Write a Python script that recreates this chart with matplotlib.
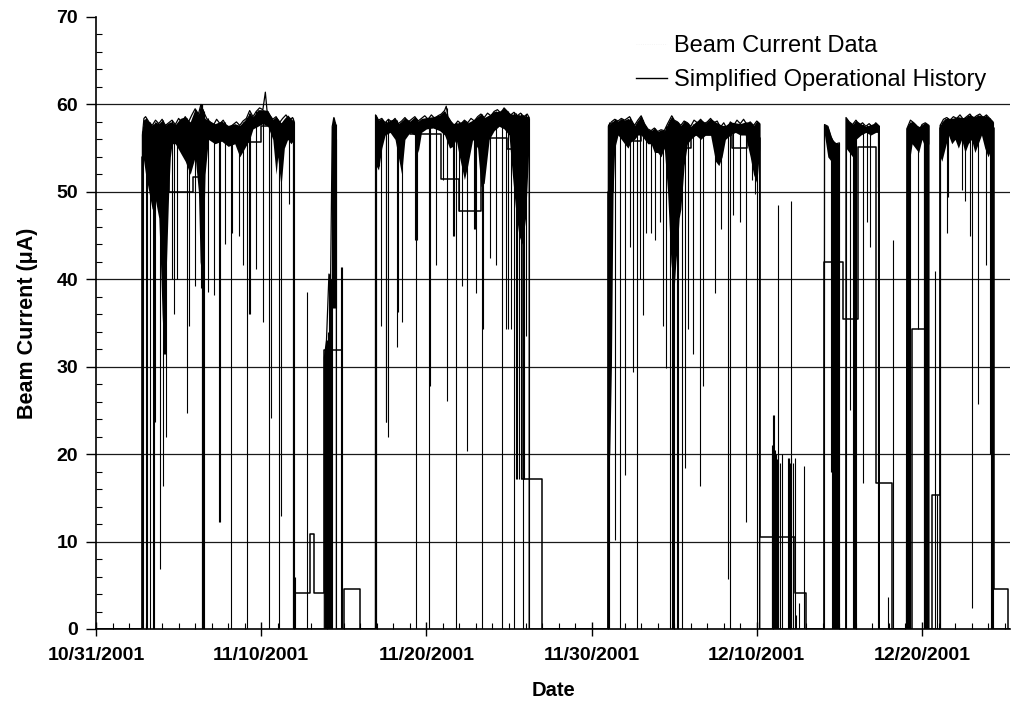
import datetime
import numpy as np
import matplotlib
matplotlib.use("Agg")
import matplotlib.pyplot as plt
import matplotlib.dates as mdates
from matplotlib.ticker import FixedLocator, MultipleLocator
from matplotlib.lines import Line2D

plt.rcParams['font.family'] = ['Liberation Sans', 'DejaVu Sans']

# ---------------- data (days after 10/31/2001, beam current in uA) ----------------
start_date = datetime.datetime(2001, 10, 31)
x_end_days = 55.33

# upper envelope of the beam current record, run by run (t, value)
runA_top = [(0, 0), (2.80, 0), (2.81, 56.5), (2.9, 58.4), (3.0, 58.6), (3.2, 58.0), (3.4, 57.6), (3.6, 58.2),
            (3.8, 57.8), (4.0, 58.3), (4.2, 57.6), (4.4, 57.9), (4.6, 58.2), (4.8, 57.7), (5.0, 58.4),
            (5.2, 57.9), (5.4, 58.6), (5.6, 58.0), (5.8, 58.8), (6.0, 59.5), (6.2, 58.9), (6.35, 60.0),
            (6.5, 59.2), (6.7, 58.4), (6.9, 58.0), (7.1, 57.6), (7.3, 58.3), (7.5, 57.8), (7.7, 58.2),
            (7.9, 57.5), (8.1, 57.4), (8.3, 57.7), (8.5, 58.0), (8.7, 57.6), (8.9, 58.1), (9.1, 58.4),
            (9.3, 59.3), (9.5, 58.6), (9.7, 59.2), (9.9, 59.6), (10.1, 59.4), (10.25, 61.4), (10.35, 59.3),
            (10.5, 58.8), (10.7, 58.3), (10.9, 58.6), (11.1, 57.9), (11.3, 58.4), (11.5, 58.8), (11.7, 58.2),
            (11.9, 58.5), (12.0, 58.0), (12.0, 0)]
runB_top = [(12.0, 0), (13.82, 0), (13.82, 31.0), (13.95, 33.0), (14.1, 40.6), (14.2, 40.0), (14.3, 57.5),
            (14.4, 58.5), (14.5, 57.8), (14.55, 56.0), (14.55, 0), (16.91, 0)]
runC_top = [(16.91, 0), (16.92, 58.8), (17.1, 58.2), (17.3, 58.4), (17.5, 57.9), (17.7, 58.3), (17.9, 58.0),
            (18.1, 58.4), (18.3, 57.8), (18.5, 58.1), (18.7, 58.5), (18.9, 58.0), (19.1, 58.3), (19.3, 58.6),
            (19.5, 58.1), (19.7, 58.4), (19.9, 58.7), (20.1, 58.3), (20.3, 58.8), (20.5, 58.4), (20.7, 58.7),
            (20.9, 58.9), (21.1, 59.3), (21.2, 59.8), (21.3, 58.6), (21.5, 58.0), (21.7, 57.6), (21.9, 58.1),
            (22.1, 57.8), (22.3, 58.2), (22.5, 57.9), (22.7, 58.4), (22.9, 58.1), (23.1, 58.6), (23.3, 58.9),
            (23.5, 58.5), (23.7, 59.0), (23.9, 58.7), (24.1, 59.2), (24.3, 59.4), (24.5, 59.0), (24.7, 59.6),
            (24.9, 59.2), (25.1, 58.8), (25.3, 59.1), (25.5, 58.7), (25.7, 59.0), (25.9, 58.6), (26.1, 58.9),
            (26.22, 58.5), (26.22, 0), (30.99, 0)]
runD_top = [(30.99, 0), (31.02, 57.5), (31.2, 58.0), (31.4, 58.3), (31.6, 58.1), (31.8, 58.4), (32.0, 58.2),
            (32.3, 58.6), (32.5, 57.9), (32.6, 57.6), (32.8, 58.2), (33.0, 58.7), (33.2, 57.8), (33.4, 57.2),
            (33.6, 57.0), (33.8, 57.3), (34.0, 56.9), (34.2, 57.1), (34.4, 57.0), (34.6, 57.8), (34.85, 58.7),
            (35.0, 58.2), (35.2, 58.0), (35.4, 57.6), (35.6, 58.1), (35.8, 57.9), (36.0, 57.5), (36.2, 58.2),
            (36.4, 57.9), (36.6, 58.3), (36.8, 57.8), (37.0, 58.0), (37.2, 58.4), (37.4, 57.9), (37.6, 58.1),
            (37.8, 57.4), (38.0, 57.9), (38.2, 57.2), (38.4, 58.0), (38.6, 57.6), (38.8, 58.2), (39.0, 57.8),
            (39.2, 58.3), (39.4, 57.7), (39.6, 58.0), (39.8, 57.6), (40.0, 58.1), (40.18, 57.8), (40.18, 0),
            (44.08, 0)]
runF_top = [(44.08, 0), (44.1, 57.7), (44.3, 57.5), (44.5, 56.3), (44.6, 55.8), (44.8, 55.5), (45.0, 55.6),
            (45.0, 0), (45.38, 0), (45.4, 58.5), (45.6, 58.0), (45.8, 57.7), (46.0, 58.2), (46.2, 57.6),
            (46.4, 57.9), (46.6, 57.5), (46.8, 57.8), (47.0, 57.4), (47.2, 57.9), (47.42, 57.5), (47.42, 0),
            (49.06, 0)]
runG_top = [(49.06, 0), (49.08, 57.2), (49.3, 58.2), (49.5, 57.9), (49.7, 57.5), (49.9, 57.3), (50.0, 57.7),
            (50.2, 57.9), (50.42, 57.6), (50.42, 0), (51.08, 0)]
runH_top = [(51.08, 0), (51.1, 57.6), (51.3, 58.3), (51.5, 58.5), (51.7, 58.2), (51.9, 58.6), (52.1, 58.4),
            (52.3, 58.8), (52.5, 58.3), (52.7, 58.6), (52.9, 58.9), (53.1, 58.4), (53.3, 58.7), (53.5, 58.9),
            (53.7, 58.5), (53.9, 58.8), (54.1, 58.4), (54.3, 58.0), (54.3, 0), (55.33, 0)]

# individual excursions of the beam current (t, low, high)
runA_dips = [(2.80, 0, 57.0), (2.82, 0, 57.5), (3.01, 0, 58.5), (3.09, 0, 58.2), (3.27, 0, 58.0),
             (3.45, 0, 57.8), (3.52, 0, 57.6), (3.55, 23.7, 58.0), (3.88, 6.9, 57.8), (4.06, 16.3, 58.2),
             (4.12, 31.4, 57.8), (4.15, 31.4, 57.8), (4.22, 22.0, 57.6), (4.59, 40.0, 58.2), (4.73, 36.0, 57.8),
             (4.93, 40.0, 57.8), (5.53, 24.7, 58.4), (5.64, 34.7, 58.0), (6.0, 39.2, 59.5), (6.38, 39.0, 60.0),
             (6.42, 0, 60.0), (6.44, 0, 60.0), (6.47, 0, 59.5), (6.55, 0, 59.2), (6.75, 38.6, 58.4),
             (7.15, 38.2, 57.6), (7.45, 12.2, 57.8), (7.48, 12.2, 57.8), (7.82, 44.0, 58.0), (8.18, 0, 57.5),
             (8.26, 45.3, 57.6), (8.67, 44.9, 57.6), (8.91, 41.6, 58.0), (9.15, 0, 58.4), (9.27, 36.0, 59.0),
             (9.30, 36.0, 59.0), (9.68, 41.2, 59.2), (10.12, 35.1, 59.4), (10.48, 0, 58.8), (10.59, 24.1, 58.5),
             (10.62, 46.9, 58.5), (11.09, 0, 58.0), (11.19, 12.9, 57.9), (11.66, 48.6, 58.5), (11.90, 0, 58.5),
             (11.95, 0, 58.2), (12.0, 0, 58.0), (12.03, 0, 6.0)]
runB_dips = [(12.79, 0, 38.5), (13.86, 0, 32.0), (13.9, 0, 32.5), (13.95, 0, 33.0), (14.0, 0, 33.0),
             (14.05, 0, 34.0), (14.1, 0, 40.6), (14.15, 0, 40.6), (14.2, 0, 40.0), (14.3, 0, 57.5),
             (14.35, 36.7, 58.5), (14.4, 36.7, 58.5), (14.45, 36.7, 58.0), (14.5, 36.7, 57.8), (14.55, 0, 56.0),
             (14.85, 0, 41.4), (14.88, 0, 41.4)]
runC_dips = [(16.92, 0, 58.8), (16.97, 0, 58.6), (17.15, 53.0, 58.2), (17.25, 34.7, 58.3), (17.55, 23.7, 58.0),
             (17.58, 23.7, 58.1), (17.65, 22.0, 58.3), (18.22, 32.2, 58.2), (18.3, 36.3, 57.8),
             (18.53, 35.1, 58.1), (19.3, 44.5, 58.5), (19.35, 44.5, 58.5), (19.38, 0, 58.4), (19.42, 44.5, 58.3),
             (20.18, 0, 58.3), (20.24, 27.8, 58.4), (20.58, 41.6, 58.5), (20.99, 51.4, 58.9), (21.25, 26.1, 59.6),
             (21.6, 45.0, 57.8), (21.7, 45.0, 57.6), (21.82, 0, 58.0), (22.0, 47.8, 58.0), (22.14, 39.2, 57.9),
             (22.47, 20.4, 58.0), (22.87, 45.7, 58.2), (22.93, 45.7, 58.2), (23.0, 38.4, 58.3), (23.37, 0, 58.9),
             (23.45, 34.3, 58.7), (23.82, 42.4, 58.8), (24.22, 41.6, 59.3), (24.6, 0, 59.2), (24.8, 34.3, 59.4),
             (24.95, 34.3, 59.2), (25.1, 34.3, 58.8), (25.33, 0, 59.1), (25.4, 17.1, 59.0), (25.5, 17.1, 58.7),
             (25.6, 17.1, 58.8), (25.7, 17.1, 59.0), (25.82, 0, 58.8), (25.9, 17.1, 58.6), (26.04, 33.5, 58.9),
             (26.22, 0, 58.5)]
runD_dips = [(30.99, 0, 57.5), (31.02, 0, 57.8), (31.06, 0, 58.0), (31.39, 10.2, 58.3), (31.7, 0, 58.1),
             (32.0, 17.6, 58.2), (32.3, 43.7, 58.6), (32.5, 29.4, 57.9), (32.73, 0, 58.0), (32.91, 40.0, 58.6),
             (33.1, 35.9, 58.2), (33.31, 45.3, 57.5), (33.6, 45.3, 57.0), (33.82, 44.5, 57.3), (34.12, 46.5, 57.0),
             (34.32, 34.7, 57.0), (34.53, 29.8, 57.5), (34.73, 0, 58.2), (34.85, 0, 58.7), (34.9, 0, 58.5),
             (35.0, 0, 58.2), (35.15, 0, 58.0), (35.23, 0, 58.0), (35.45, 0, 57.6), (35.64, 18.4, 58.1),
             (35.84, 34.3, 57.9), (36.14, 31.4, 57.8), (36.55, 16.3, 58.2), (36.75, 27.8, 57.9),
             (37.45, 38.4, 57.9), (37.86, 45.7, 57.6), (38.26, 5.7, 57.6), (38.36, 0, 58.0), (38.57, 47.3, 57.6),
             (38.97, 46.5, 57.8), (39.37, 12.2, 57.8), (39.68, 51.4, 57.8), (39.88, 49.8, 57.6), (40.0, 0, 58.1),
             (40.15, 0, 57.8)]
runE_dips = [(40.9, 0, 20.0), (40.95, 0, 21.0), (41.0, 0, 24.5), (41.05, 0, 24.5), (41.1, 0, 20.5),
             (41.15, 0, 20.0), (41.2, 0, 19.5), (41.27, 0, 48.5), (41.3, 0, 20.0), (41.4, 0, 19.0),
             (41.5, 0, 20.0), (41.9, 0, 19.6), (41.95, 0, 19.6), (42.0, 0, 19.0), (42.05, 0, 19.6),
             (42.1, 0, 49.0), (42.2, 0, 19.0), (42.3, 0, 19.6), (42.4, 0, 1.6), (42.55, 0, 3.0), (42.85, 0, 18.6)]
runF_dips = [(44.09, 0, 57.7), (44.5, 18.0, 56.3), (44.55, 0, 55.5), (44.6, 0, 55.8), (44.65, 0, 55.6),
             (44.7, 0, 55.6), (44.75, 0, 55.5), (44.8, 0, 55.5), (44.85, 0, 55.5), (44.9, 0, 55.5),
             (44.95, 0, 55.6), (45.38, 0, 58.5), (45.64, 25.0, 58.0), (45.85, 0, 57.8), (45.9, 0, 57.8),
             (45.95, 0, 58.0), (46.0, 0, 58.2), (46.45, 16.7, 57.8), (46.65, 46.5, 57.6), (46.85, 43.7, 57.8),
             (47.33, 0, 57.7), (47.35, 50.6, 57.6), (47.96, 0, 3.7), (48.26, 0, 44.5)]
runG_dips = [(49.07, 0, 57.0), (49.1, 0, 57.4), (49.15, 0, 57.6), (49.2, 0, 57.8), (49.25, 0, 58.0),
             (49.78, 34.3, 57.4), (50.1, 0, 57.8), (50.15, 0, 57.8), (50.2, 0, 57.9), (50.25, 0, 57.8),
             (50.3, 0, 57.8), (50.35, 0, 57.7), (50.8, 0, 41.0), (50.9, 0, 15.3)]
runH_dips = [(51.09, 0, 57.6), (51.12, 0, 57.8), (51.49, 45.3, 58.5), (51.59, 49.4, 58.4), (52.4, 50.2, 58.4),
             (52.6, 49.0, 58.5), (52.9, 44.9, 58.9), (53.0, 2.4, 58.7), (53.4, 25.7, 58.8), (53.9, 41.6, 58.8),
             (54.1, 20.0, 58.4), (54.2, 0, 58.2), (54.25, 0, 58.1), (54.3, 0, 58.0)]

# densely packed short excursions just below the envelope (t, low, high)
runA_band = [(2.85, 54.0, 58.2), (3.0, 52.0, 58.4), (3.2, 50.0, 58.0), (3.4, 48.0, 57.6), (3.6, 49.0, 58.0),
             (3.8, 47.0, 57.8), (3.9, 42.0, 58.0), (4.0, 36.0, 58.2), (4.1, 32.0, 57.8), (4.2, 38.0, 57.6),
             (4.3, 44.0, 57.8), (4.4, 50.0, 57.9), (4.5, 54.0, 58.0), (4.6, 55.5, 58.0), (4.8, 55.5, 57.7),
             (5.1, 54.5, 58.4), (5.4, 53.5, 58.6), (5.7, 52.0, 58.0), (6.0, 54.0, 59.5), (6.2, 50.0, 58.9),
             (6.3, 42.0, 59.8), (6.45, 40.0, 59.2), (6.6, 52.0, 58.4), (6.8, 56.0, 58.2), (7.2, 55.5, 57.8),
             (7.6, 55.8, 58.1), (8.0, 55.2, 57.6), (8.4, 55.5, 57.8), (8.7, 54.0, 57.6), (9.0, 55.0, 58.2),
             (9.3, 56.0, 59.0), (9.5, 57.2, 58.6), (9.8, 57.5, 59.4), (10.1, 57.8, 59.4), (10.4, 57.5, 59.3),
             (10.7, 56.0, 58.3), (10.9, 52.0, 58.6), (11.0, 54.0, 58.4), (11.2, 50.6, 57.9), (11.4, 55.0, 58.4),
             (11.6, 56.0, 58.8), (11.8, 55.5, 58.4), (12.0, 56.0, 58.0)]
runC_band = [(16.95, 53.0, 58.8), (17.1, 52.5, 58.2), (17.3, 55.0, 58.4), (17.5, 56.5, 57.9), (17.8, 56.8, 58.2),
             (18.1, 56.0, 58.4), (18.3, 54.0, 57.8), (18.5, 52.0, 58.1), (18.7, 56.0, 58.5), (19.0, 56.8, 58.1),
             (19.3, 56.5, 58.6), (19.5, 54.5, 58.1), (19.7, 56.8, 58.4), (20.0, 57.2, 58.5), (20.4, 57.3, 58.6),
             (20.8, 57.0, 58.8), (21.1, 56.5, 59.3), (21.4, 55.0, 58.3), (21.6, 55.2, 57.8), (21.8, 56.0, 57.9),
             (22.0, 54.0, 57.9), (22.3, 51.4, 58.2), (22.5, 53.0, 57.9), (22.8, 56.0, 58.2), (23.1, 55.0, 58.6),
             (23.3, 50.6, 58.9), (23.5, 51.0, 58.5), (23.8, 56.0, 58.8), (24.1, 57.0, 59.2), (24.4, 57.5, 59.2),
             (24.7, 57.2, 59.6), (25.0, 56.5, 59.0), (25.2, 52.0, 58.9), (25.4, 48.0, 58.9), (25.6, 45.0, 58.8),
             (25.8, 44.0, 58.8), (26.0, 47.0, 58.7), (26.2, 55.0, 58.6)]
runD_band = [(31.0, 19.0, 57.5), (31.1, 20.0, 57.8), (31.2, 30.0, 58.0), (31.3, 50.0, 58.1), (31.4, 55.0, 58.3),
             (31.6, 56.5, 58.1), (31.8, 56.0, 58.4), (32.0, 55.5, 58.2), (32.2, 55.0, 58.4), (32.4, 55.8, 58.2),
             (32.6, 56.0, 57.6), (32.8, 56.5, 58.2), (33.0, 56.5, 58.7), (33.2, 56.0, 57.8), (33.4, 55.5, 57.2),
             (33.6, 55.5, 57.0), (33.8, 54.5, 57.3), (34.0, 54.5, 56.9), (34.2, 54.0, 57.1), (34.4, 55.0, 57.0),
             (34.6, 50.0, 57.8), (34.7, 46.0, 58.2), (34.8, 42.0, 58.5), (34.9, 40.0, 58.5), (35.0, 39.0, 58.2),
             (35.1, 42.0, 58.1), (35.2, 44.0, 58.0), (35.3, 47.0, 57.8), (35.4, 48.0, 57.6), (35.6, 53.0, 58.1),
             (35.8, 55.5, 57.9), (36.0, 56.0, 57.5), (36.3, 56.5, 58.0), (36.6, 56.0, 58.3), (36.9, 56.5, 57.9),
             (37.2, 56.5, 58.4), (37.5, 53.5, 58.0), (37.7, 53.0, 57.8), (37.9, 54.0, 57.6), (38.1, 56.0, 57.6),
             (38.4, 56.5, 58.0), (38.7, 56.8, 57.9), (39.0, 56.5, 57.8), (39.3, 56.5, 58.0), (39.6, 54.0, 58.0),
             (39.8, 52.0, 57.6), (40.0, 51.0, 58.1), (40.18, 55.0, 57.8)]
runF_band = [(44.1, 56.5, 57.7), (44.3, 54.0, 57.5), (44.5, 53.5, 56.3), (44.7, 53.0, 55.7), (44.9, 54.0, 55.5),
             (45.0, 54.5, 55.6)]
runF2_band = [(45.4, 55.0, 58.5), (45.6, 54.5, 58.0), (45.8, 54.0, 57.7), (46.0, 56.0, 58.2), (46.3, 56.5, 57.8),
              (46.6, 56.8, 57.5), (46.9, 56.5, 57.7), (47.2, 56.8, 57.9), (47.42, 56.8, 57.5)]
runG_band = [(49.08, 50.0, 57.2), (49.2, 53.0, 57.8), (49.4, 55.5, 58.1), (49.6, 55.0, 57.8), (49.8, 54.5, 57.4),
             (50.0, 56.0, 57.7), (50.2, 55.0, 57.9), (50.42, 55.5, 57.6)]
runH_band = [(51.1, 54.0, 57.6), (51.2, 53.5, 58.0), (51.4, 55.0, 58.4), (51.6, 56.5, 58.4), (51.8, 55.5, 58.4),
             (52.0, 56.0, 58.5), (52.2, 55.0, 58.6), (52.4, 56.0, 58.5), (52.6, 54.5, 58.5), (52.8, 55.5, 58.8),
             (53.0, 56.0, 58.7), (53.2, 54.5, 58.6), (53.4, 55.5, 58.8), (53.6, 56.5, 58.7), (53.8, 55.0, 58.7),
             (54.0, 54.0, 58.6), (54.2, 55.0, 58.2), (54.3, 55.0, 58.0)]

# simplified operational history, step values (t, value), held until next t
history = [(0, 0), (2.80, 54.0), (3.4, 57.0), (4.4, 50.0), (5.9, 51.7), (6.5, 56.8), (7.9, 55.7), (10.0, 57.5),
           (11.2, 56.8), (12.0, 4.1), (12.97, 10.9), (13.2, 4.1), (13.82, 31.9), (14.9, 0), (15.0, 4.6),
           (15.95, 0), (16.92, 57.0), (19.0, 56.6), (20.9, 51.5), (22.0, 47.8), (23.3, 56.2), (24.9, 54.9),
           (25.8, 17.2), (27.0, 0), (30.98, 50.0), (31.3, 57.0), (32.0, 55.8), (33.0, 56.7), (34.5, 55.0),
           (36.0, 56.5), (38.5, 55.0), (39.4, 56.2), (40.2, 10.5), (42.3, 4.1), (43.0, 0), (44.08, 42.0),
           (45.2, 35.5), (46.1, 55.1), (47.2, 16.7), (48.2, 0), (49.4, 34.3), (50.2, 0), (50.6, 15.3),
           (51.1, 57.3), (54.35, 4.6), (55.2, 0), (55.33, 0)]

x_major_days = [0, 10, 20, 30, 40, 50]
y_major = [0, 10, 20, 30, 40, 50, 60, 70]
grid_levels = [10, 20, 30, 40, 50, 60]

# ---------------- drawing ----------------
base = mdates.date2num(start_date)


def tx(seq):
    return base + np.asarray(seq, dtype=float)


fig = plt.figure(figsize=(10.14, 7.02), dpi=100)
ax = fig.add_axes([0.0947, 0.104, 0.9014, 0.8718])

for lev in grid_levels:
    ax.axhline(lev, color='#1a1a1a', lw=0.9, zorder=1)

for band in (runA_band, runC_band, runD_band, runF_band, runF2_band, runG_band, runH_band):
    t, lo, hi = zip(*band)
    ax.fill_between(tx(t), lo, hi, color='black', lw=0, zorder=2)

for dips in (runA_dips, runB_dips, runC_dips, runD_dips, runE_dips, runF_dips, runG_dips, runH_dips):
    t, lo, hi = zip(*dips)
    ax.vlines(tx(t), lo, hi, color='black', lw=0.8, zorder=2)

for top in (runA_top, runB_top, runC_top, runD_top, runF_top, runG_top, runH_top):
    t, v = zip(*top)
    ax.plot(tx(t), v, color='black', lw=0.9, zorder=3)

ht, hv = zip(*history)
ax.step(tx(ht), hv, where='post', color='black', lw=1.1, zorder=4)

ax.set_xlim(base, base + x_end_days)
ax.set_ylim(0, 70)

ax.xaxis.set_major_locator(FixedLocator(tx(x_major_days)))
ax.xaxis.set_minor_locator(FixedLocator(tx(range(0, 56))))
ax.xaxis.set_major_formatter(mdates.DateFormatter('%m/%d/%Y'))
ax.set_yticks(y_major)
ax.yaxis.set_minor_locator(MultipleLocator(2))

ax.tick_params(axis='x', which='major', direction='inout', length=10, width=1.0, pad=8)
ax.tick_params(axis='x', which='minor', direction='in', length=4, width=0.8)
ax.tick_params(axis='y', which='major', direction='out', length=7, width=1.0, pad=6)
ax.tick_params(axis='y', which='minor', direction='in', length=4, width=0.8)
for lab in ax.get_xticklabels() + ax.get_yticklabels():
    lab.set_fontsize(14)
    lab.set_fontweight('bold')

for s in ('top', 'right'):
    ax.spines[s].set_visible(False)
for s in ('left', 'bottom'):
    ax.spines[s].set_linewidth(1.2)

ax.set_xlabel('Date', fontsize=14.5, fontweight='bold', labelpad=12)
ax.set_ylabel('Beam Current (\u03bcA)', fontsize=15.5, fontweight='bold', labelpad=13)

handles = [Line2D([], [], color='#f2f2f2', lw=0.6, linestyle=':'),
           Line2D([], [], color='black', lw=1.0)]
ax.legend(handles, ['Beam Current Data', 'Simplified Operational History'], loc='upper right',
          bbox_to_anchor=(0.997, 1.005), frameon=False, fontsize=17, handlelength=1.3,
          handletextpad=0.3, labelspacing=0.5)

fig.savefig('out.png', dpi=100)
